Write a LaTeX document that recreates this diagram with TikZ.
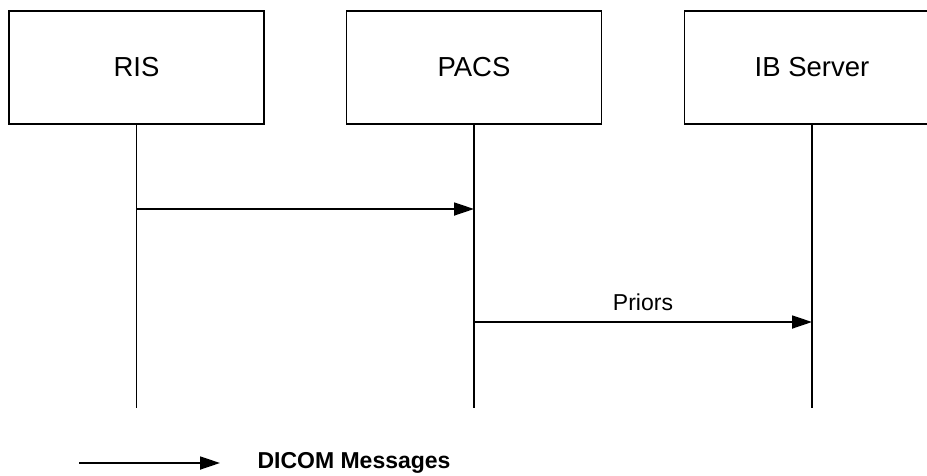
\documentclass[tikz,border=0pt]{standalone}
\usepackage{fontspec}
\setmainfont{Liberation Sans}
\usetikzlibrary{arrows.meta}
\tikzstyle{arrow} = [-{Triangle[length=20pt,width=13pt]},line width=1.8pt]
\tikzstyle{system} = [draw,line width=1.8pt,minimum width=255pt,minimum height=113pt,font=\fontsize{27.5}{30}\selectfont]
\tikzstyle{lifeline} = [line width=1.8pt]

\begin{document}
\begin{tikzpicture}[x=1pt,y=-1pt]
          \useasboundingbox (0,0) rectangle (927,475);
          \node[system] (ris) at (136.5,67.5) {RIS};
          \node[system] (pacs) at (474,67.5) {PACS};
          \node[system] (ib) at (812,67.5) {IB Server};

          \coordinate (risend) at (136.5,408);
          \coordinate (pacsend) at (474,408);
          \coordinate (ibend) at (812,408);
          \draw[lifeline] (ris.south) -- (risend);
          \draw[lifeline] (pacs.south) -- (pacsend);
          \draw[lifeline] (ib.south) -- (ibend);

          \coordinate (ris1) at (136.5,209);
          \coordinate (pacs1) at (474,209);
          \coordinate (pacs2) at (474,322);
          \coordinate (ib2) at (812,322);
          \draw[arrow] (ris1) -- (pacs1);
          \draw[arrow] (pacs2) -- node[above=7pt,name=priors,font=\fontsize{23}{26}\selectfont] {Priors} (ib2);

          \coordinate (legstart) at (79,463);
          \coordinate (legend) at (220,463);
          \draw[arrow] (legstart) -- (legend);
          \node[anchor=west,font=\fontsize{23}{26}\selectfont\bfseries] (dicom) at (254,463) {DICOM Messages};
        \end{tikzpicture}
\end{document}
